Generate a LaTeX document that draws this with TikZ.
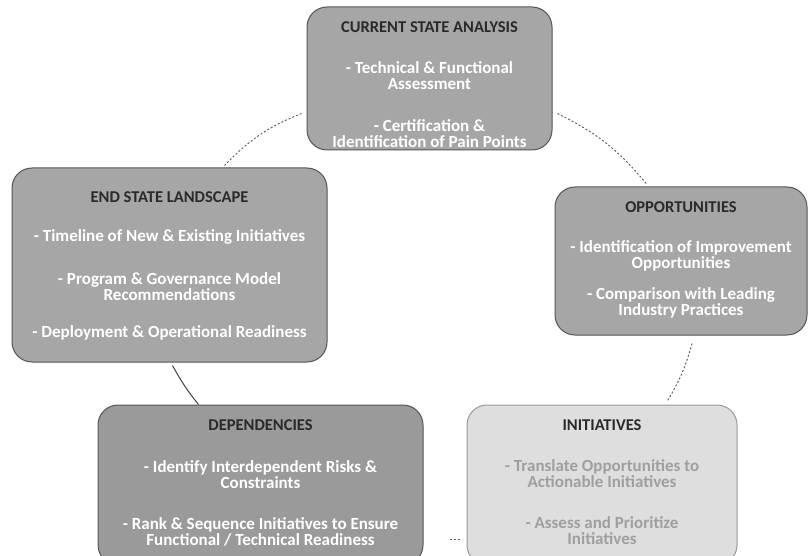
\documentclass[tikz,border=0pt]{standalone}
\usepackage{fontspec}
\setmainfont{Carlito}
\usetikzlibrary{calc}
\definecolor{boxA}{HTML}{A6A6A6}
\definecolor{boxDep}{HTML}{9A9A9A}
\definecolor{boxInit}{HTML}{DEDEDE}
\definecolor{edgeA}{HTML}{555555}
\definecolor{titleC}{HTML}{2A2A2A}
\tikzset{
  panel/.style={draw=edgeA, line width=1pt, rounded corners=20pt, fill=boxA, inner sep=0pt},
  ttl/.style={font=\bfseries\fontsize{16.5}{16}\selectfont, text=titleC},
  itm/.style={font=\bfseries\fontsize{17}{16}\selectfont, text=white, align=center},
  itmlight/.style={font=\bfseries\fontsize{17}{16}\selectfont, text=gray!75, align=center},
  conn/.style={draw=gray!70!black, line width=0.9pt, dash pattern=on 2pt off 2pt},
  connsolid/.style={draw=black!75, line width=1pt}
}
\begin{document}
\begin{tikzpicture}[x=1pt,y=-1pt]
\useasboundingbox[fill=white] (0,0) rectangle (811,556);
% panels
\node[panel, minimum width=245pt, minimum height=143pt] (csa) at (429.5,78.5) {};
\node[panel, minimum width=315pt, minimum height=194pt] (endst) at (169.5,265) {};
\node[panel, minimum width=252pt, minimum height=148pt] (opp) at (681,261) {};
\node[panel, fill=boxDep, minimum width=325pt, minimum height=160pt] (dep) at (260.5,485) {};
\node[panel, fill=boxInit, draw=gray!80, minimum width=270pt, minimum height=160pt] (init) at (602,485) {};
% texts: current state
\node[ttl] (t1) at (429.5,27) {CURRENT STATE ANALYSIS};
\node[itm] (t1a) at (429.5,75.5) {- Technical \& Functional\\Assessment};
\node[itm] (t1b) at (429.5,133.5) {- Certification \&\\Identification of Pain Points};
% end state
\node[ttl] (t2) at (169.5,197) {END STATE LANDSCAPE};
\node[itm] (t2a) at (169.5,237) {- Timeline of New \& Existing Initiatives};
\node[itm] (t2b) at (169.5,286.5) {- Program \& Governance Model\\Recommendations};
\node[itm] (t2c) at (169.5,333) {- Deployment \& Operational Readiness};
% opportunities
\node[ttl] (t3) at (681,207) {OPPORTUNITIES};
\node[itm] (t3a) at (681,255.5) {- Identification of Improvement\\Opportunities};
\node[itm] (t3b) at (681,302.5) {- Comparison with Leading\\Industry Practices};
% dependencies
\node[ttl] (t4) at (260.5,425) {DEPENDENCIES};
\node[itm] (t4a) at (260.5,474.5) {- Identify Interdependent Risks \&\\Constraints};
\node[itm] (t4b) at (260.5,531.5) {- Rank \& Sequence Initiatives to Ensure\\Functional / Technical Readiness};
% initiatives
\node[ttl] (t5) at (602,425) {INITIATIVES};
\node[itmlight] (t5a) at (602,473.5) {- Translate Opportunities to\\Actionable Initiatives};
\node[itmlight] (t5b) at (602,530.5) {- Assess and Prioritize\\Initiatives};
% connectors
\draw[conn] ($(csa.west)+(-5,35)$) to[bend right=12] ($(endst.north)+(55,-2)$);
\draw[conn] ($(csa.east)+(5,35)$) to[bend left=12] ($(opp.north)+(-34,-2)$);
\draw[conn] ($(opp.south)+(11,8)$) to[bend left=8] ($(init.north)+(65,-3)$);
\draw[connsolid] ($(endst.south)+(3,3)$) to[bend right=5] ($(dep.north)+(-62,0)$);
\draw[conn] ($(init.west)+(-7,54)$) -- ($(dep.east)+(24,54)$);
\end{tikzpicture}
\end{document}
